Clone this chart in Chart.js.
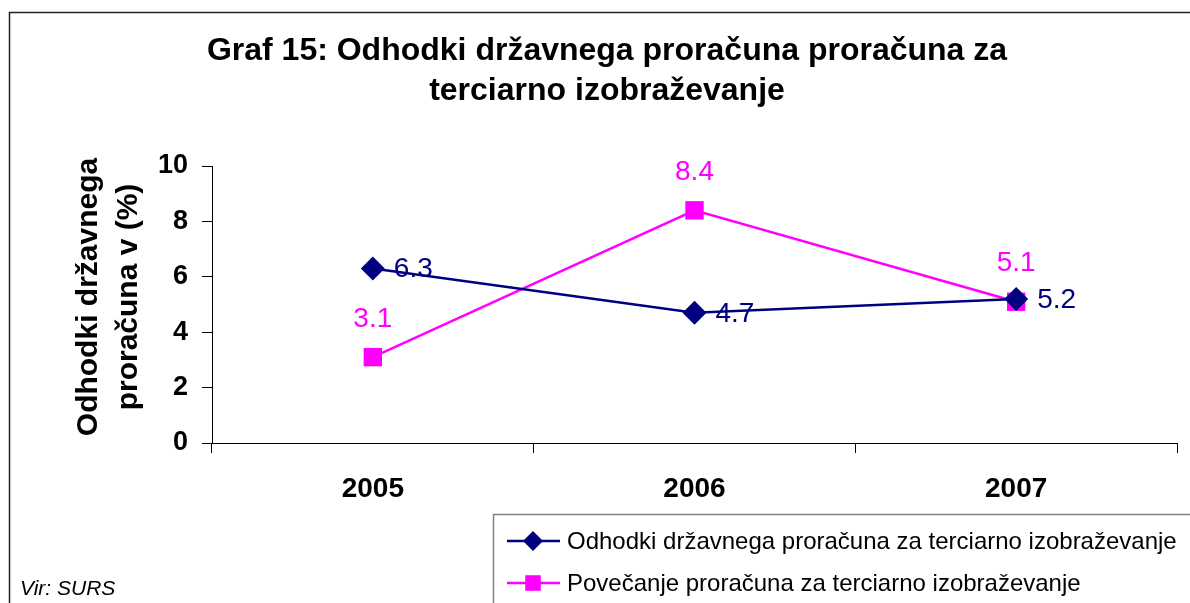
<!DOCTYPE html>
<html>
<head>
<meta charset="utf-8">
<script src="https://cdn.jsdelivr.net/npm/chart.js@4.4.1/dist/chart.umd.min.js"></script>
<style>
html,body{margin:0;padding:0;background:#fff;}
canvas{display:block;}
</style>
</head>
<body>
<canvas id="c" width="1190" height="603"></canvas>
<script>
const categories = ['2005', '2006', '2007'];
const seriesNames = ['Odhodki državnega proračuna za terciarno izobraževanje', 'Povečanje proračuna za terciarno izobraževanje'];
const odhodki = [6.3, 4.7, 5.2];
const povecanje = [3.1, 8.4, 5.1];
const yTicks = [0, 2, 4, 6, 8, 10];
const titleLines = ['Graf 15: Odhodki državnega proračuna proračuna za', 'terciarno izobraževanje'];
const yTitleLines = ['Odhodki državnega', 'proračuna v (%)'];
const sourceText = 'Vir: SURS';

const FONT = '"Liberation Sans", Arial, sans-serif';
const NAVY = '#000080';
const PINK = '#FF00FF';

const decor = {
  id: 'decor',
  beforeDraw(chart) {
    const ctx = chart.ctx;
    ctx.save();
    ctx.fillStyle = '#fff';
    ctx.fillRect(0, 0, chart.width, chart.height);
    ctx.strokeStyle = '#222';
    ctx.lineWidth = 1.5;
    ctx.strokeRect(9.5, 12.5, 1300, 700);
    ctx.restore();
  },
  afterDatasetsDraw(chart) {
    const ctx = chart.ctx;
    ctx.save();
    ctx.font = '28px ' + FONT;
    const m0 = chart.getDatasetMeta(0);
    ctx.fillStyle = NAVY;
    ctx.textAlign = 'left';
    ctx.textBaseline = 'middle';
    m0.data.forEach((p, i) => ctx.fillText(String(odhodki[i]), p.x + 21, p.y + 1));
    const m1 = chart.getDatasetMeta(1);
    ctx.fillStyle = PINK;
    ctx.textAlign = 'center';
    m1.data.forEach((p, i) => ctx.fillText(String(povecanje[i]), p.x, p.y - 38));
    ctx.restore();
  },
  afterDraw(chart) {
    const ctx = chart.ctx;
    ctx.save();
    ctx.fillStyle = '#000';
    ctx.font = 'bold 32px ' + FONT;
    ctx.textAlign = 'center';
    ctx.textBaseline = 'middle';
    ctx.fillText(titleLines[0], 607, 51);
    ctx.fillText(titleLines[1], 607, 91);
    ctx.save();
    ctx.translate(109, 297);
    ctx.rotate(-Math.PI / 2);
    ctx.font = 'bold 30px ' + FONT;
    ctx.fillText(yTitleLines[0], 0, -20);
    ctx.fillText(yTitleLines[1], 0, 20);
    ctx.restore();
    ctx.font = 'italic 21px ' + FONT;
    ctx.textAlign = 'left';
    ctx.fillText(sourceText, 20, 589);
    ctx.strokeStyle = '#808080';
    ctx.lineWidth = 1.5;
    ctx.strokeRect(493.5, 514.5, 800, 200);
    const ys = [541, 583];
    chart.data.datasets.forEach((ds, i) => {
      const y = ys[i];
      ctx.strokeStyle = ds.borderColor;
      ctx.lineWidth = ds.borderWidth;
      ctx.beginPath();
      ctx.moveTo(507, y);
      ctx.lineTo(560, y);
      ctx.stroke();
      ctx.fillStyle = ds.pointBackgroundColor;
      Chart.helpers.drawPoint(ctx, {pointStyle: ds.pointStyle, radius: ds.pointRadius - 2, rotation: 0, borderWidth: 0}, 533, y);
      ctx.fillStyle = '#000';
      ctx.font = '24px ' + FONT;
      ctx.textBaseline = 'middle';
      ctx.fillText(ds.label, 567, y + 1);
    });
    ctx.restore();
  }
};

new Chart(document.getElementById('c'), {
  type: 'line',
  data: {
    labels: categories,
    datasets: [
      {
        label: seriesNames[0],
        data: odhodki,
        borderColor: NAVY,
        backgroundColor: NAVY,
        pointBackgroundColor: NAVY,
        pointBorderColor: NAVY,
        borderWidth: 2.5,
        pointStyle: 'rectRot',
        pointRadius: 12,
        pointBorderWidth: 0,
        tension: 0
      },
      {
        label: seriesNames[1],
        data: povecanje,
        borderColor: PINK,
        backgroundColor: PINK,
        pointBackgroundColor: PINK,
        pointBorderColor: PINK,
        borderWidth: 2.5,
        pointStyle: 'rect',
        pointRadius: 13,
        pointBorderWidth: 0,
        tension: 0
      }
    ]
  },
  options: {
    responsive: false,
    animation: false,
    devicePixelRatio: 1,
    layout: { padding: { top: 166, right: 13, left: 0, bottom: 0 } },
    plugins: { legend: { display: false }, tooltip: { enabled: false }, title: { display: false } },
    elements: { line: { clip: false } },
    scales: {
      x: {
        type: 'category',
        offset: true,
        afterFit: s => { s.height = 160; },
        grid: { offset: true, drawOnChartArea: false, drawTicks: true, tickLength: 10, color: '#000', lineWidth: 1 },
        border: { display: true, color: '#000', width: 1 },
        ticks: { color: '#000', font: { family: FONT, size: 28, weight: 'bold' }, padding: 19, maxRotation: 0 }
      },
      y: {
        min: 0,
        max: 10,
        afterFit: s => { s.width = 212; },
        afterBuildTicks: s => { s.ticks = yTicks.map(v => ({ value: v })); },
        grid: { drawOnChartArea: false, drawTicks: true, tickLength: 10, color: '#000', lineWidth: 1 },
        border: { display: true, color: '#000', width: 1 },
        ticks: { color: '#000', font: { family: FONT, size: 27, weight: 'bold' }, padding: 14 }
      }
    }
  },
  plugins: [decor]
});
</script>
</body>
</html>
